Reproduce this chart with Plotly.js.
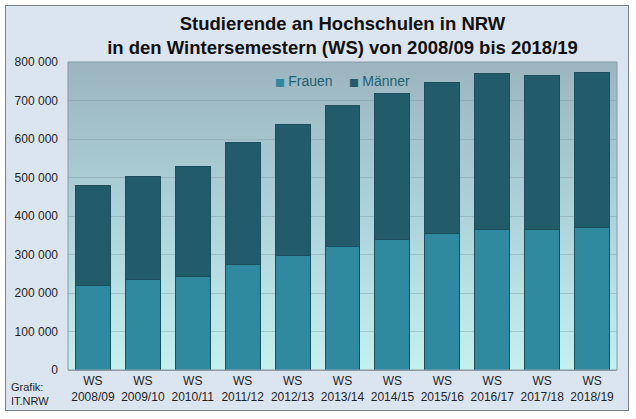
<!DOCTYPE html>
<html>
<head>
<meta charset="utf-8">
<script src="https://cdn.plot.ly/plotly-3.0.1.min.js"></script>
<style>
  html, body { margin: 0; padding: 0; background: #ffffff; }
  #frame { position: absolute; left: 5px; top: 5px; width: 622px; height: 404px; border: 1px solid #7a8088; background: #dbe5f0; }
  #chart { width: 622px; height: 404px; }
</style>
</head>
<body>
<div id="frame"><div id="chart"></div></div>
<script>
const categories = ["WS<br>2008/09", "WS<br>2009/10", "WS<br>2010/11", "WS<br>2011/12", "WS<br>2012/13", "WS<br>2013/14", "WS<br>2014/15", "WS<br>2015/16", "WS<br>2016/17", "WS<br>2017/18", "WS<br>2018/19"];
const frauen = [220000, 235500, 244000, 273000, 297000, 322000, 338000, 354000, 365000, 365000, 371000];
const maenner = [258000, 266000, 285000, 318000, 340000, 364000, 381000, 392000, 404000, 400000, 403000];
const yTicks = [0, 100000, 200000, 300000, 400000, 500000, 600000, 700000, 800000];
const seriesNames = ["Frauen", "Männer"];
const seriesColors = ["#2f899f", "#225c6a"];

const gradSvg = '<svg xmlns="http://www.w3.org/2000/svg" width="100" height="100" preserveAspectRatio="none">' +
  '<defs><linearGradient id="g" x1="0" y1="0" x2="0" y2="1">' +
  '<stop offset="0" stop-color="#9cb5c0"/>' +
  '<stop offset="0.45" stop-color="#abd0d8"/>' +
  '<stop offset="1" stop-color="#c4f0ee"/>' +
  '</linearGradient></defs><rect width="100" height="100" fill="url(#g)"/></svg>';
const gradUri = 'data:image/svg+xml;charset=utf-8,' + encodeURIComponent(gradSvg);

const seriesValues = [frauen, maenner];
const traces = seriesNames.map((n, i) => ({
  type: 'bar', name: n, x: categories, y: seriesValues[i],
  marker: { color: seriesColors[i], line: { color: '#1c4f5b', width: 1 } },
  hoverinfo: 'skip', showlegend: false
}));

const legendX = [0.373, 0.508];
const legendAnnotations = seriesNames.map((n, i) => ({
  text: '<span style="color:' + seriesColors[i] + ';font-size:10.5px;font-family:DejaVu Sans">■ </span>' + n,
  xref: 'paper', yref: 'paper', x: legendX[i], y: 0.938,
  xanchor: 'left', yanchor: 'middle', showarrow: false,
  font: { size: 14, color: '#245f70' }
}));

const layout = {
  width: 622, height: 404,
  margin: { l: 62, r: 11, t: 56, b: 40 },
  paper_bgcolor: '#dbe5f0',
  plot_bgcolor: 'rgba(0,0,0,0)',
  barmode: 'stack',
  bargap: 0.3,
  separators: ', ',
  showlegend: false,
  font: { family: 'Liberation Sans, Arial, sans-serif', size: 12, color: '#1e1e1e' },
  title: {
    text: '<b>Studierende an Hochschulen in NRW<br>in den Wintersemestern (WS) von 2008/09 bis 2018/19</b>',
    font: { family: 'Liberation Sans, Arial, sans-serif', size: 18.5, color: '#111111' },
    x: 0.5, xref: 'paper', xanchor: 'center',
    y: 0.94, yref: 'container', yanchor: 'top'
  },
  xaxis: {
    type: 'category',
    showgrid: false,
    zeroline: false,
    showline: true, linecolor: '#8a9aa4', linewidth: 1,
    ticks: '',
    tickfont: { size: 12, color: '#1e1e1e' },
    fixedrange: true
  },
  yaxis: {
    range: [0, 800000],
    tickvals: yTicks,
    tickformat: ',d',
    showgrid: true, gridcolor: 'rgba(125,150,160,0.4)', gridwidth: 1,
    zeroline: false,
    showline: false,
    ticks: '',
    ticklabelstandoff: 9,
    tickfont: { size: 12, color: '#1e1e1e' },
    fixedrange: true
  },
  images: [{
    source: gradUri, xref: 'paper', yref: 'paper',
    x: 0, y: 1, sizex: 1, sizey: 1, sizing: 'stretch',
    xanchor: 'left', yanchor: 'top', layer: 'below'
  }],
  shapes: [{
    type: 'rect', xref: 'paper', yref: 'paper', x0: 0, x1: 1, y0: 0, y1: 1,
    line: { color: '#8a9aa4', width: 1 }, fillcolor: 'rgba(0,0,0,0)', layer: 'above'
  }],
  annotations: legendAnnotations.concat([{
    text: 'Grafik:<br>IT.NRW', xref: 'paper', yref: 'paper',
    x: -0.108, y: -0.03, xanchor: 'left', yanchor: 'top', align: 'left',
    showarrow: false, font: { size: 11, color: '#1e1e1e' }
  }])
};

Plotly.newPlot('chart', traces, layout, { displayModeBar: false, staticPlot: true });
</script>
</body>
</html>
